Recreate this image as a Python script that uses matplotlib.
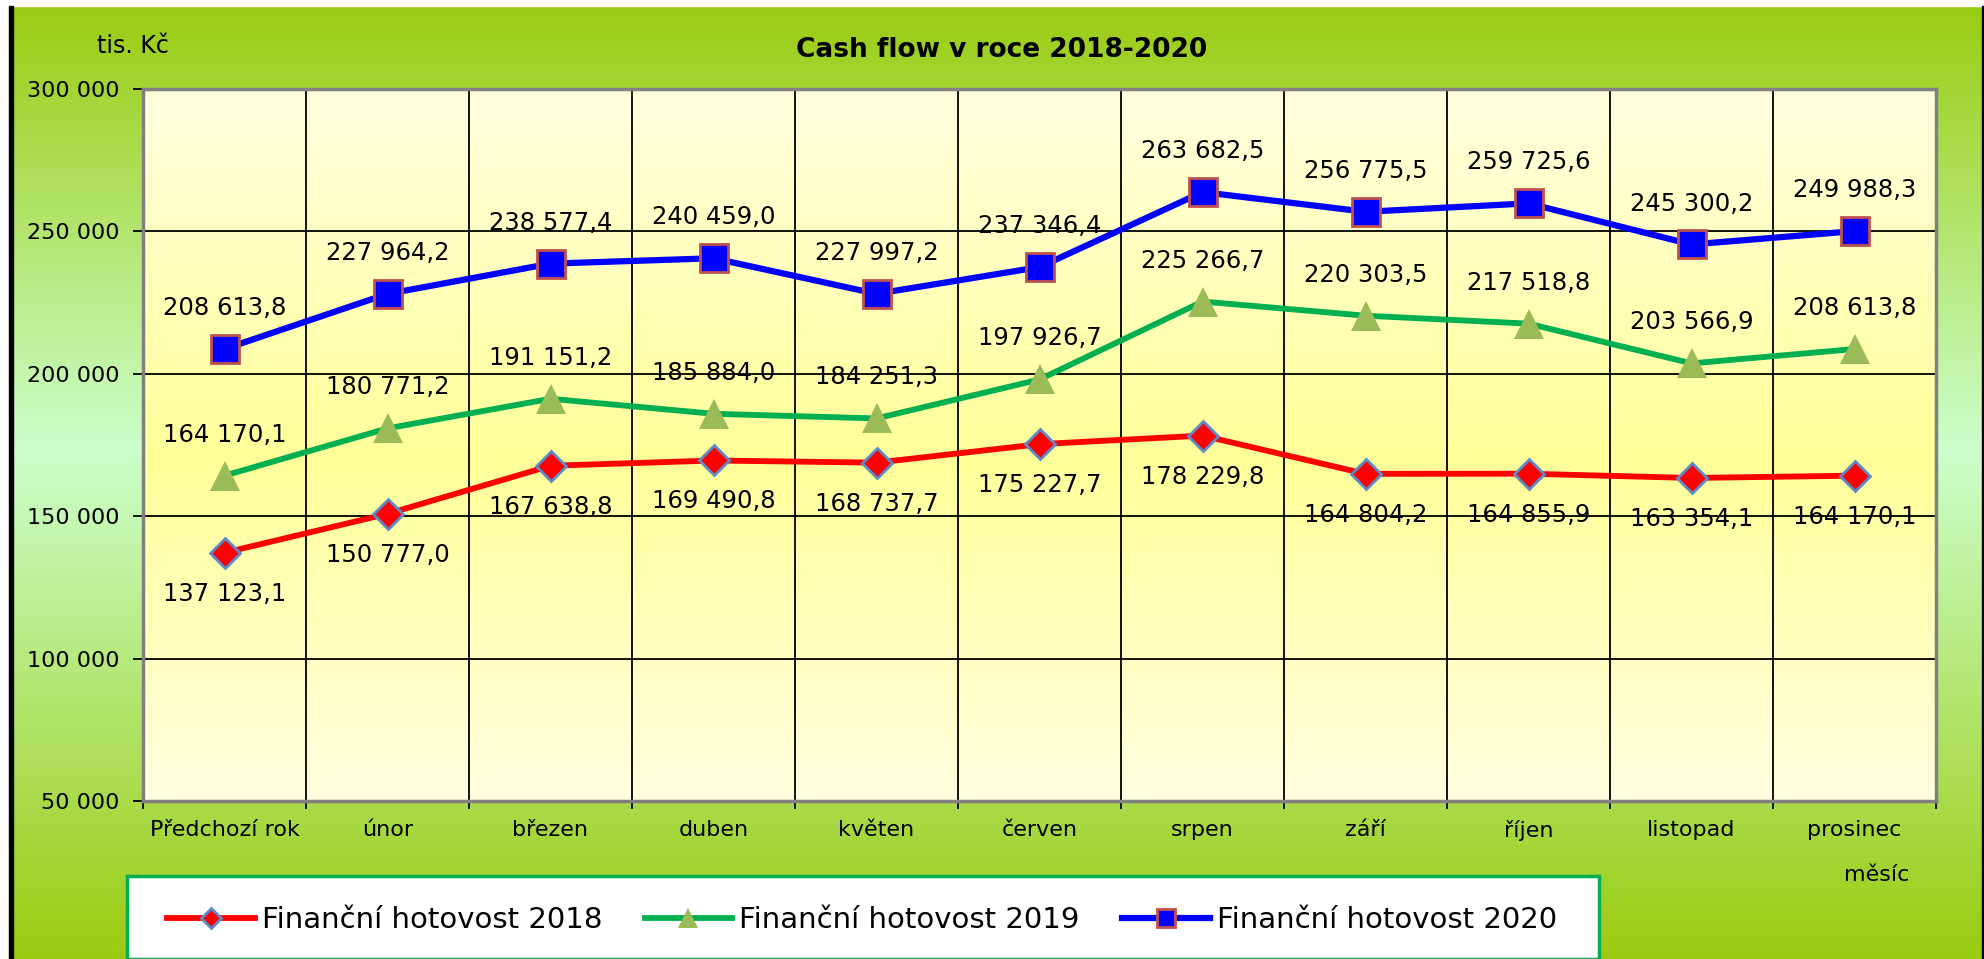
import numpy as np
import matplotlib.pyplot as plt
from matplotlib.colors import LinearSegmentedColormap
from matplotlib.patches import Rectangle

months = ["Předchozí rok", "únor", "březen", "duben", "květen", "červen",
          "srpen", "září", "říjen", "listopad", "prosinec"]
hot_2018 = [137123.1, 150777.0, 167638.8, 169490.8, 168737.7, 175227.7,
            178229.8, 164804.2, 164855.9, 163354.1, 164170.1]
hot_2019 = [164170.1, 180771.2, 191151.2, 185884.0, 184251.3, 197926.7,
            225266.7, 220303.5, 217518.8, 203566.9, 208613.8]
hot_2020 = [208613.8, 227964.2, 238577.4, 240459.0, 227997.2, 237346.4,
            263682.5, 256775.5, 259725.6, 245300.2, 249988.3]
y_ticks = [50000, 100000, 150000, 200000, 250000, 300000]


def cz(v, dec=1):
    # czech number format: space as thousands separator, comma as decimal
    return f"{v:,.{dec}f}".replace(",", " ").replace(".", ",")


W, H = 1984, 959
fig = plt.figure(figsize=(W / 100, H / 100), dpi=100)

# background of the whole chart (green - mint - green)
bg = fig.add_axes([0, 0, 1, 1], zorder=-10)
grad = np.linspace(0, 1, 512).reshape(-1, 1)
bg_cmap = LinearSegmentedColormap.from_list(
    "bg", [(0, "#9acb10"), (0.47, "#ccffcc"), (1, "#9acb10")])
bg.imshow(grad, aspect="auto", cmap=bg_cmap, extent=[0, 1, 0, 1])
bg.set_xlim(0, 1)
bg.set_ylim(0, 1)
bg.axis("off")
bg.add_patch(Rectangle((0, 1 - 6 / H), 1, 6 / H, color="white"))
bg.add_patch(Rectangle((0, 0), 9 / W, 1, color="white"))
bg.add_patch(Rectangle((9 / W, 0), 4 / W, 1 - 6 / H, color="black"))
bg.add_patch(Rectangle((1 - 2 / W, 0), 2 / W, 1 - 6 / H, color="black"))
# legend box
bg.add_patch(Rectangle((127 / W, 0), (1599 - 127) / W, (959 - 876) / H,
                       facecolor="white", edgecolor="#00b050", lw=2.5))

ax = fig.add_axes([143 / W, 1 - 801 / H, (1936 - 143) / W, (801 - 88.6) / H])
pa_cmap = LinearSegmentedColormap.from_list(
    "pa", [(0, "#ffffe0"), (0.52, "#ffff99"), (1, "#ffffe0")])
ax.imshow(grad, aspect="auto", cmap=pa_cmap,
          extent=[-0.5, 10.5, 50000, 300000], zorder=0)

x = np.arange(len(months))
l18, = ax.plot(x, hot_2018, color="red", lw=4.2, marker="D", ms=15,
               mfc="red", mec="#5b8bc8", mew=2, zorder=5,
               label="Finanční hotovost 2018")
l19, = ax.plot(x, hot_2019, color="#00b050", lw=4.2, marker="^", ms=22,
               mfc="#9bbb59", mec="#9bbb59", mew=0, zorder=4,
               label="Finanční hotovost 2019")
l20, = ax.plot(x, hot_2020, color="blue", lw=4.5, marker="s", ms=20,
               mfc="blue", mec="#c0504d", mew=2, zorder=6,
               label="Finanční hotovost 2020")

for i, v in enumerate(hot_2018):
    ax.annotate(cz(v), (i, v), xytext=(0, -29.5), textcoords="offset points",
                ha="center", va="center", fontsize=17.5, zorder=8)
for i, v in enumerate(hot_2019):
    ax.annotate(cz(v), (i, v), xytext=(0, 29.5), textcoords="offset points",
                ha="center", va="center", fontsize=17.5, zorder=8)
for i, v in enumerate(hot_2020):
    ax.annotate(cz(v), (i, v), xytext=(0, 29.5), textcoords="offset points",
                ha="center", va="center", fontsize=17.5, zorder=8)

ax.set_xlim(-0.5, 10.5)
ax.set_ylim(50000, 300000)
ax.set_xticks(x)
ax.set_xticklabels(months, fontsize=16)
ax.set_xticks(np.arange(-0.5, len(months), 1), minor=True)
ax.tick_params(axis="x", which="major", length=0, pad=14)
ax.tick_params(axis="x", which="minor", length=6, width=1.3, color="black")
ax.set_yticks(y_ticks)
ax.set_yticklabels([cz(v, 0) for v in y_ticks], fontsize=16)
ax.tick_params(axis="y", length=7, width=1.3, color="black", pad=10)
ax.grid(which="minor", axis="x", color="black", lw=1.3)
ax.grid(which="major", axis="y", color="black", lw=1.3)
for s in ax.spines.values():
    s.set_color("#808080")
    s.set_linewidth(2.5)

fig.text(1002 / W, 1 - 50 / H, "Cash flow v roce 2018-2020", ha="center",
         va="center", fontsize=19, fontweight="bold")
fig.text(133 / W, 1 - 46 / H, "tis. Kč", ha="center", va="center", fontsize=17)
fig.text(1877 / W, 1 - 875 / H, "měsíc", ha="center", va="center", fontsize=16)

fig.legend(handles=[l18, l19, l20], loc="center left",
           bbox_to_anchor=(167 / W, 1 - 920 / H), ncol=3, frameon=False,
           fontsize=21, handlelength=3.0, handletextpad=0.25,
           columnspacing=1.45, borderpad=0, borderaxespad=0, markerscale=0.65)

fig.savefig("out.png", dpi=100)
